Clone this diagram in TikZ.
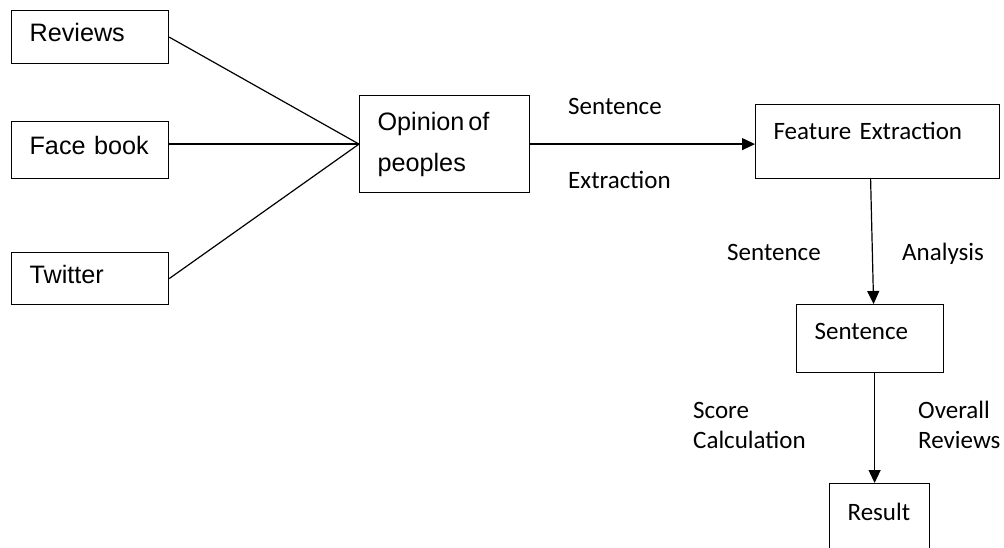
\documentclass[tikz,border=0pt]{standalone}
\usepackage{fontspec}
\setmainfont{Liberation Sans}
\newfontfamily\calibri{Carlito}
\usetikzlibrary{arrows.meta}
\tikzset{
	box/.style={draw, line width=1.2pt, rectangle, inner ysep=0pt, inner xsep=18pt, align=left, anchor=north west, font=\fontsize{25.2}{41}\selectfont},
	cbox/.style={box, font=\calibri\fontsize{25}{30}\selectfont},
	lbl/.style={inner sep=0pt, anchor=base west, align=left, font=\calibri\fontsize{25}{30}\selectfont},
	link/.style={line width=1.2pt},
	flow/.style={line width=1.2pt, -{Triangle[length=13pt,width=12pt]}}
}
\begin{document}
\begin{tikzpicture}[x=1pt, y=-1pt]
	\useasboundingbox (0, 0) rectangle (1004, 548);
	\clip (0, 0) rectangle (1004, 548);
	\node[box, text width=121pt, text height=31pt, text depth=22pt] (reviews) at (11, 10) {Reviews};
	\node[box, text width=121pt, text height=33pt, text depth=24pt] (face) at (11, 121) {Face~book};
	\node[box, text width=121pt, text height=31pt, text depth=21pt] (twitter) at (11, 252) {Twitter};
	\node[box, text width=134pt, minimum height=97pt] (opinion) at (359, 95) {Opinion\hspace{4pt}of\\peoples};
	\node[cbox, text width=208pt, text height=35pt, text depth=39pt] (feature) at (755, 104) {Feature Extraction};
	\node[cbox, text width=111pt, text height=35pt, text depth=33pt] (sentence) at (796, 304) {Sentence};
	\node[cbox, text width=64pt, text height=37pt, text depth=45pt] (result) at (829, 483) {Result};
	\node[lbl] (sentA) at (568, 115) {Sentence};
	\node[lbl] (extr) at (568, 189) {Extraction};
	\node[lbl] (sentB) at (727, 260) {Sentence};
	\node[lbl] (anal) at (902, 260) {Analysis};
	\node[lbl] (score) at (693, 448) {Score\\Calculation};
	\node[lbl] (overall) at (918, 448) {Overall\\Reviews};
	\draw[link] (reviews.east) -- (opinion.west);
	\draw[link] (face.east |- opinion.west) -- (opinion.west);
	\draw[link] (twitter.east) -- (opinion.west);
	\draw[flow] (opinion.east) -- (opinion.east -| feature.west);
	\draw[flow] ([xshift=-7pt]feature.south) -- ([xshift=3.5pt]sentence.north);
	\draw[flow] ([xshift=4.5pt]sentence.south) -- ([xshift=-5pt]result.north);
\end{tikzpicture}
\end{document}
